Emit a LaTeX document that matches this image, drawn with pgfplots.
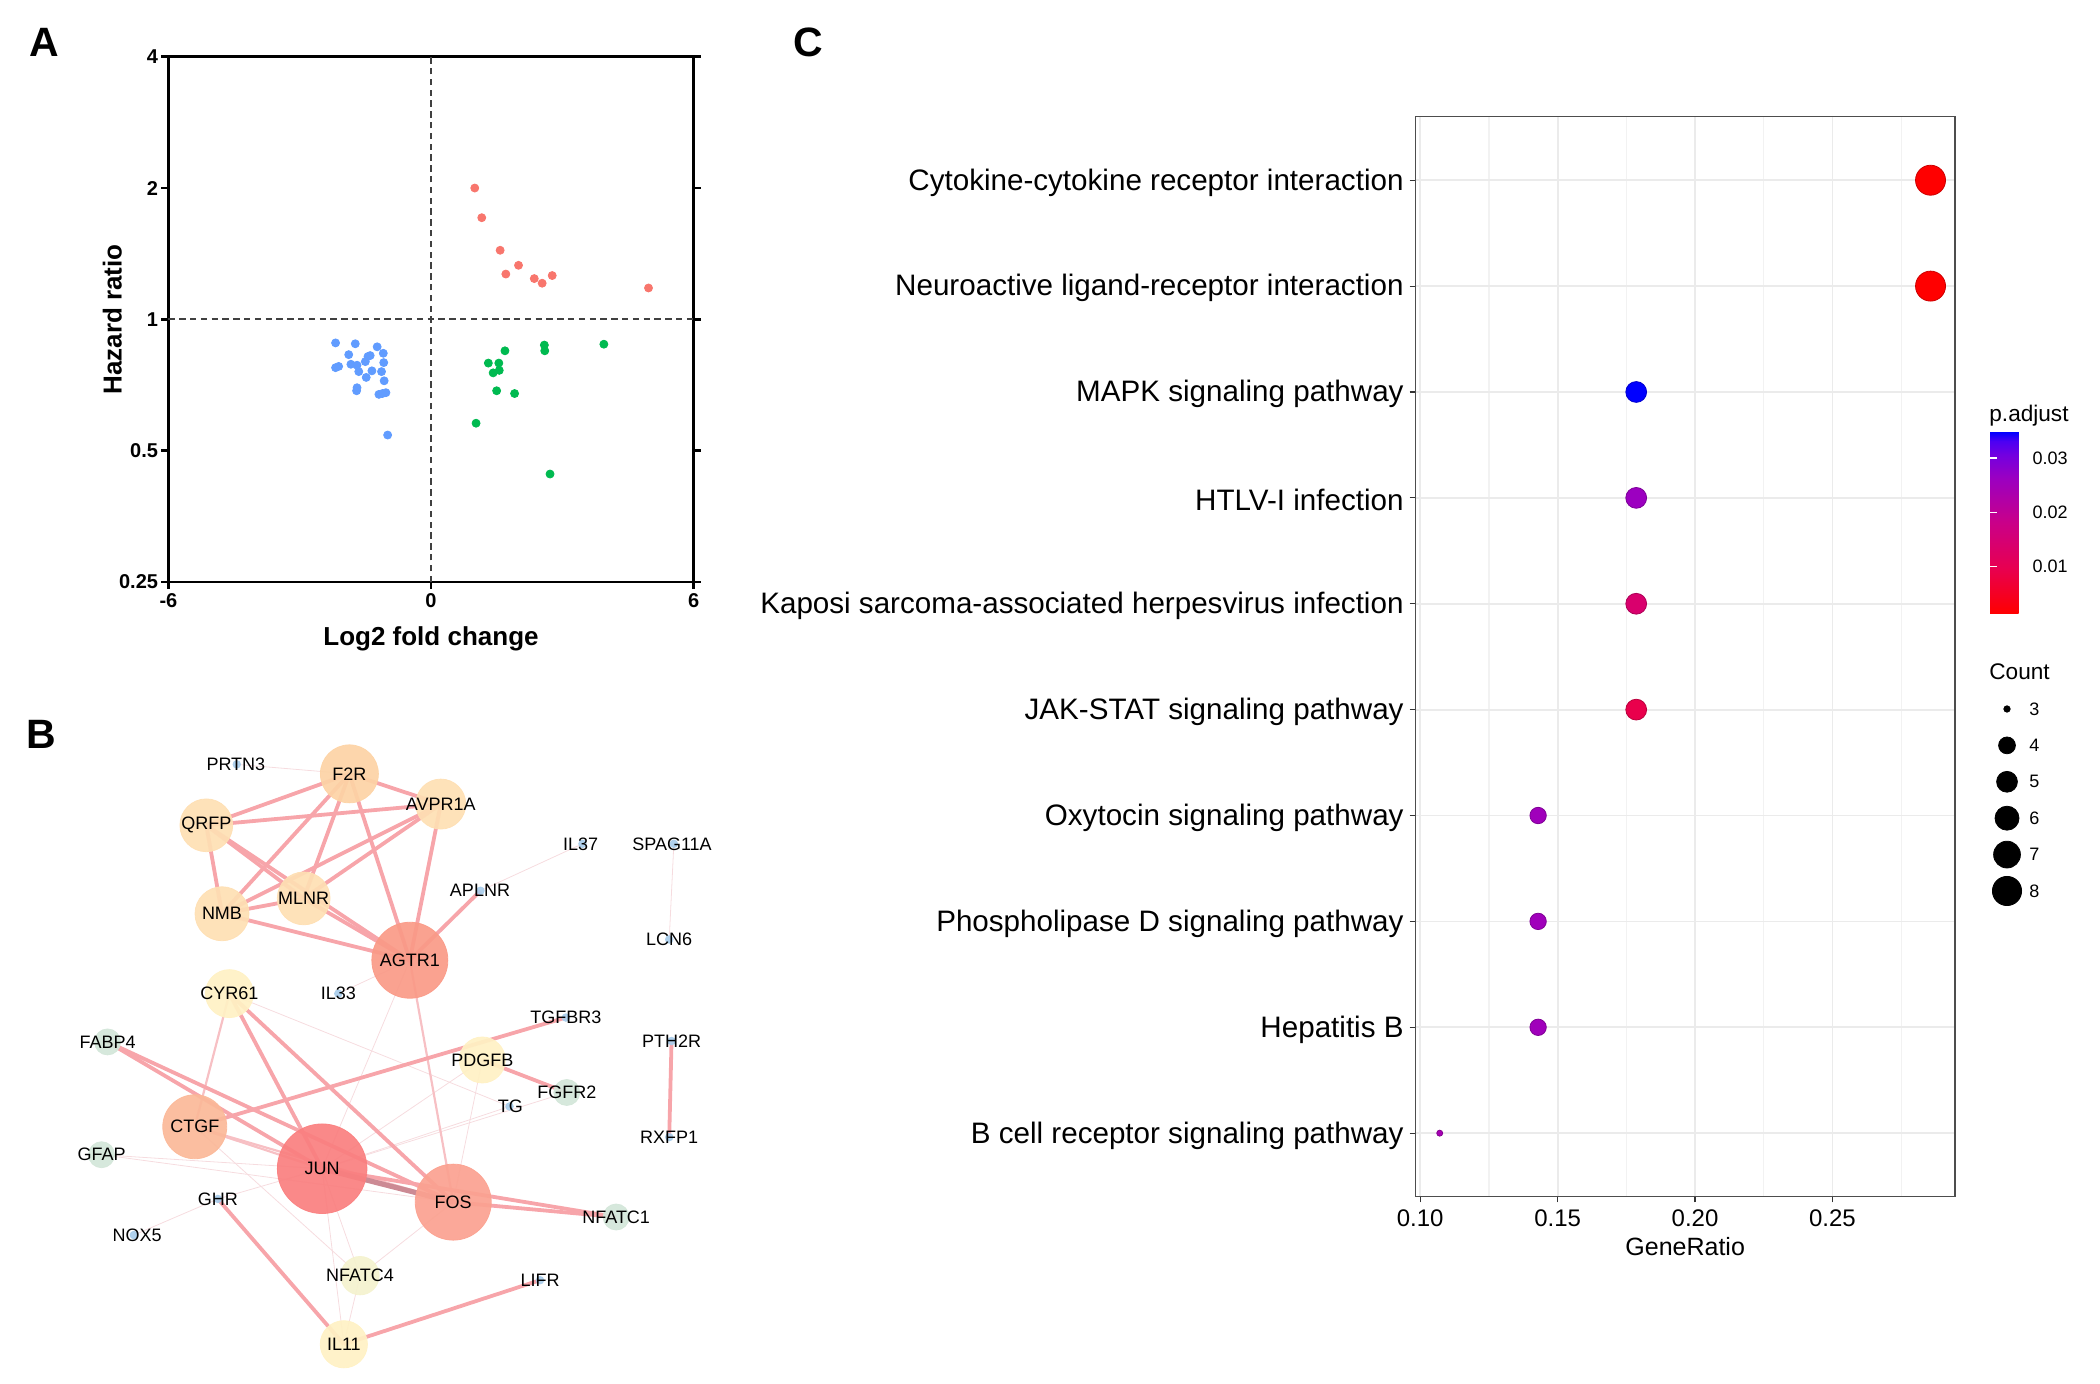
\documentclass[border=0pt]{standalone}
\usepackage{fontspec}
\setmainfont{Liberation Sans}
\usepackage{pgfplots}
\pgfplotsset{compat=1.18}
\definecolor{hrred}{HTML}{F8766D}
\definecolor{hrgreen}{HTML}{00BA50}
\definecolor{hrblue}{HTML}{619CFF}
\definecolor{edgeT}{HTML}{F7A5AA}
\definecolor{edgeM}{HTML}{F7C0C4}
\definecolor{edgeF}{HTML}{F6DCDF}
\definecolor{edgeD}{HTML}{CC8A94}
\definecolor{nPeachA}{HTML}{FDD3A5}
\definecolor{nPeachB}{HTML}{FEDFB3}
\definecolor{nSalmon}{HTML}{FA9A87}
\definecolor{nJun}{HTML}{FA7F7F}
\definecolor{nFos}{HTML}{FBA190}
\definecolor{nCtgf}{HTML}{FBB898}
\definecolor{nYellow}{HTML}{FFF1C4}
\definecolor{nYellowG}{HTML}{F4F2CE}
\definecolor{nGreen}{HTML}{D3E6D9}
\definecolor{nBlue}{HTML}{A9CDEB}
\definecolor{gridc}{HTML}{EBEBEB}
\definecolor{gridm}{HTML}{F2F2F2}
\definecolor{frame}{HTML}{4D4D4D}
\newcommand{\eT}[4]{\addplot[edgeT, line width=1.9pt, mark=none] coordinates {(#1,#2) (#3,#4)};}
\newcommand{\eM}[4]{\addplot[edgeM, line width=1.1pt, mark=none] coordinates {(#1,#2) (#3,#4)};}
\newcommand{\eF}[4]{\addplot[edgeF, line width=0.4pt, mark=none] coordinates {(#1,#2) (#3,#4)};}
\newcommand{\eD}[4]{\addplot[edgeD, line width=2.6pt, mark=none] coordinates {(#1,#2) (#3,#4)};}
\newcommand{\nd}[4]{\addplot[only marks, mark=*, mark size=#3pt, color=#4, opacity=0.92] coordinates {(#1,#2)};}
\newcommand{\lb}[3]{\node[font=\fontsize{9}{10}\selectfont, inner sep=0pt] at (axis cs:#1,#2) {#3};}
\pgfplotsset{netaxis/.style={at={(0pt,0pt)}, anchor=south west, scale only axis,
  width=360pt, height=352pt, xmin=0, xmax=1560, ymin=0, ymax=1560,
  y dir=reverse, hide axis, clip=false}}
\begin{document}
\begin{tikzpicture}
\path[use as bounding box] (0,0) rectangle (1050pt,692pt);
% panel labels
\node[font=\bfseries\fontsize{20.5}{24}\selectfont, inner sep=0pt] at (22pt,670.8pt) {A};
\node[font=\bfseries\fontsize{20.5}{24}\selectfont, inner sep=0pt] at (20.75pt,325pt) {B};
\node[font=\bfseries\fontsize{20.5}{24}\selectfont, inner sep=0pt] at (404pt,671pt) {C};

% ---------------- Panel A ----------------
\begin{axis}[at={(84.2pt,401pt)}, anchor=south west, scale only axis,
  width=262.6pt, height=262.65pt,
  xmin=-6, xmax=6, ymode=log, log basis y=2, ymin=0.25, ymax=4,
  xtick={-6,0,6}, xticklabels={-6,0,6},
  ytick={0.25,0.5,1,2,4}, yticklabels={0.25,0.5,1,2,4},
  tick align=outside, major tick length=3.5pt,
  xtick pos=bottom, ytick pos=both, yticklabel pos=left,
  axis line style={line width=1.4pt},
  tick style={line width=1.4pt, black},
  ticklabel style={font=\bfseries\fontsize{10}{12}\selectfont},
  yticklabel style={inner sep=1.5pt},
  xticklabel style={inner sep=2pt},
  xlabel={Log2 fold change}, ylabel={Hazard ratio},
  label style={font=\bfseries\fontsize{13}{15}\selectfont},
  xlabel style={at={(axis description cs:0.5,-0.1078)}, anchor=center},
  ylabel style={at={(axis description cs:-0.1066,0.5)}, anchor=center},
  /pgf/number format/assume math mode=true,
  clip=false]
\addplot[color=black!75, line width=1.1pt, dash pattern=on 3.2pt off 2.2pt] coordinates {(-6,1) (6,1)};
\addplot[color=black!75, line width=1.1pt, dash pattern=on 3.2pt off 2.2pt] coordinates {(0,0.25) (0,4)};
\addplot[only marks, mark=*, mark size=2pt, color=hrred] coordinates {
(1.00,2.00) (1.16,1.71) (1.58,1.44) (2.00,1.33) (1.71,1.27) (2.36,1.24) (2.54,1.21) (2.77,1.26) (4.97,1.18)};
\addplot[only marks, mark=*, mark size=2pt, color=hrgreen] coordinates {
(3.95,0.877) (2.59,0.873) (2.60,0.847) (1.69,0.847) (1.31,0.794) (1.55,0.794) (1.56,0.764) (1.42,0.754)
(1.50,0.686) (1.91,0.676) (1.03,0.578) (2.72,0.442)};
\addplot[only marks, mark=*, mark size=2pt, color=hrblue] coordinates {
(-2.18,0.883) (-1.73,0.879) (-1.23,0.865) (-1.88,0.830) (-1.39,0.826) (-1.44,0.822) (-1.09,0.836)
(-1.50,0.800) (-1.08,0.796) (-1.83,0.789) (-1.69,0.785) (-2.11,0.780) (-2.18,0.775) (-1.65,0.759)
(-1.35,0.762) (-1.13,0.759) (-1.48,0.736) (-1.07,0.723) (-1.69,0.697) (-1.70,0.686) (-1.19,0.673)
(-1.11,0.676) (-1.03,0.679) (-0.99,0.543)};
\end{axis}

% ---------------- Panel B ----------------
\begin{axis}[netaxis]
% faint edges
\eF{513}{187}{757}{208}
\eF{497}{695}{1104}{945}
\eF{1262}{363}{1041}{467}
\eF{1460}{363}{1450}{575}
\eF{472}{1150}{290}{1230}
\eF{220}{1052}{698}{1083}
\eF{220}{1052}{982}{1157}
\eF{733}{695}{888}{621}
\eF{888}{621}{698}{1083}
\eF{698}{1083}{780}{1320}
\eF{982}{1157}{780}{1320}
\eF{698}{1083}{745}{1472}
\eF{1045}{842}{982}{1157}
\eF{1045}{842}{698}{1083}
\eF{422}{990}{780}{1320}
\eF{1104}{945}{698}{1083}
\eF{1228}{914}{698}{1083}
\eF{472}{1150}{698}{1083}
\eF{780}{1320}{745}{1472}
% medium edges
\eM{497}{695}{422}{990}
\eM{888}{621}{982}{1157}
\eM{422}{990}{698}{1083}
\eM{422}{990}{982}{1157}
% thick edges
\eT{757}{208}{447}{322}
\eT{757}{208}{955}{275}
\eT{757}{208}{481}{518}
\eT{757}{208}{658}{484}
\eT{757}{208}{888}{621}
\eT{447}{322}{955}{275}
\eT{447}{322}{481}{518}
\eT{447}{322}{658}{484}
\eT{447}{322}{888}{621}
\eT{955}{275}{481}{518}
\eT{955}{275}{658}{484}
\eT{955}{275}{888}{621}
\eT{481}{518}{658}{484}
\eT{481}{518}{888}{621}
\eT{658}{484}{888}{621}
\eT{888}{621}{1041}{467}
\eT{497}{695}{698}{1083}
\eT{497}{695}{982}{1157}
\eT{233}{802}{698}{1083}
\eT{233}{802}{982}{1157}
\eT{422}{990}{1226}{748}
\eT{1045}{842}{1228}{914}
\eT{698}{1083}{1335}{1190}
\eT{982}{1157}{1335}{1190}
\eT{472}{1150}{745}{1472}
\eT{745}{1472}{1170}{1330}
\eT{1455}{800}{1450}{1013}
\eD{698}{1083}{982}{1157}
% nodes
\nd{757}{208}{14.5}{nPeachA}
\nd{955}{275}{12.5}{nPeachB}
\nd{447}{322}{13.2}{nPeachB}
\nd{481}{518}{13.5}{nPeachB}
\nd{658}{484}{13.2}{nPeachB}
\nd{888}{621}{19}{nSalmon}
\nd{497}{695}{12}{nYellow}
\nd{422}{990}{16}{nCtgf}
\nd{698}{1083}{22.4}{nJun}
\nd{982}{1157}{19}{nFos}
\nd{1045}{842}{11.5}{nYellow}
\nd{780}{1320}{9.6}{nYellowG}
\nd{745}{1472}{11.8}{nYellow}
\nd{233}{802}{6.5}{nGreen}
\nd{220}{1052}{6.5}{nGreen}
\nd{1228}{914}{6.5}{nGreen}
\nd{1335}{1190}{6.5}{nGreen}
\nd{513}{187}{1.9}{nBlue}
\nd{1262}{363}{1.9}{nBlue}
\nd{1460}{363}{1.9}{nBlue}
\nd{1041}{467}{1.9}{nBlue}
\nd{1450}{575}{1.9}{nBlue}
\nd{733}{695}{1.9}{nBlue}
\nd{1226}{748}{1.9}{nBlue}
\nd{1455}{800}{1.9}{nBlue}
\nd{1450}{1013}{1.9}{nBlue}
\nd{1104}{945}{1.9}{nBlue}
\nd{472}{1150}{1.9}{nBlue}
\nd{290}{1230}{1.9}{nBlue}
\nd{1170}{1330}{1.9}{nBlue}
\end{axis}
% labels of panel B, drawn above the nodes
\begin{axis}[netaxis]
\lb{511}{187}{PRTN3}
\lb{757}{208}{F2R}
\lb{955}{275}{AVPR1A}
\lb{447}{322}{QRFP}
\lb{1258}{363}{IL37}
\lb{1456}{363}{SPAG11A}
\lb{1040}{467}{APLNR}
\lb{658}{484}{MLNR}
\lb{481}{518}{NMB}
\lb{1450}{575}{LCN6}
\lb{888}{621}{AGTR1}
\lb{497}{695}{CYR61}
\lb{733}{695}{IL33}
\lb{1226}{748}{TGFBR3}
\lb{233}{802}{FABP4}
\lb{1455}{800}{PTH2R}
\lb{1045}{842}{PDGFB}
\lb{1228}{914}{FGFR2}
\lb{1106}{945}{TG}
\lb{422}{990}{CTGF}
\lb{1450}{1013}{RXFP1}
\lb{220}{1052}{GFAP}
\lb{698}{1083}{JUN}
\lb{472}{1150}{GHR}
\lb{982}{1157}{FOS}
\lb{1335}{1190}{NFATC1}
\lb{297}{1230}{NOX5}
\lb{780}{1320}{NFATC4}
\lb{1170}{1330}{LIFR}
\lb{745}{1472}{IL11}
\end{axis}

% ---------------- Panel C ----------------
\begin{axis}[at={(707.65pt,93.65pt)}, anchor=south west, scale only axis,
  width=269.9pt, height=540pt,
  xmin=0.09821, xmax=0.29464, ymin=0.4, ymax=10.6, y dir=reverse,
  xtick={0.10,0.15,0.20,0.25}, xticklabels={0.10,0.15,0.20,0.25},
  minor xtick={0.125,0.175,0.225,0.275},
  ytick={1,2,3,4,5,6,7,8,9,10},
  yticklabels={Cytokine-cytokine receptor interaction,
    Neuroactive ligand-receptor interaction,
    MAPK signaling pathway,
    HTLV-I infection,
    Kaposi sarcoma-associated herpesvirus infection,
    JAK-STAT signaling pathway,
    Oxytocin signaling pathway,
    Phospholipase D signaling pathway,
    Hepatitis B,
    B cell receptor signaling pathway},
  grid=both,
  major grid style={color=gridc, line width=0.9pt},
  minor grid style={color=gridm, line width=0.6pt},
  axis line style={color=frame, line width=0.7pt},
  tick align=outside, major tick length=2.85pt, minor tick length=0pt,
  tick style={color=black!80, line width=0.6pt},
  xtick pos=bottom, ytick pos=left,
  yticklabel style={font=\fontsize{14.8}{17}\selectfont, inner sep=2.8pt, yshift=-1.1pt},
  xticklabel style={font=\fontsize{12}{14}\selectfont},
  xlabel={GeneRatio},
  xlabel style={font=\fontsize{12.5}{14}\selectfont, at={(axis description cs:0.5,-0.0463)}, anchor=center},
  /pgf/number format/assume math mode=true,
  point meta min=0.0013, point meta max=0.0348,
  colormap={ggrb}{rgb255(0cm)=(255,0,0) rgb255(2cm)=(232,0,80) rgb255(4cm)=(202,0,136) rgb255(6cm)=(154,0,194) rgb255(7cm)=(115,0,224) rgb255(7.6cm)=(75,0,243) rgb255(8cm)=(0,0,255)},
  colorbar,
  colorbar style={
    at={(1.0649,0.7081)}, anchor=north west,
    scale only axis, width=18pt, height=91pt,
    y dir=normal,
    scaled y ticks=false,
    ytick={0.01,0.02,0.03}, yticklabels={0.01,0.02,0.03},
    yticklabel pos=right, ytick pos=both,
    yticklabel style={font=\fontsize{9}{11}\selectfont, color=black, inner sep=3pt},
    tick align=inside, major tick length=3.6pt,
    ytick style={color=white, line width=0.6pt},
    axis line style={draw=none},
    grid=none, xtick=\empty,
    /pgf/number format/assume math mode=true,
  },
  clip=false]
\addplot[scatter, only marks, mark=*, point meta=explicit,
  visualization depends on={\thisrow{r} \as \rad},
  scatter/@pre marker code/.append style={/tikz/mark size=\rad}]
  table[x=x, y=y, meta=p]{
x y p r
0.2857 1 0.0013 7.5
0.2857 2 0.0013 7.5
0.1786 3 0.0348 5.2
0.1786 4 0.0261 5.2
0.1786 5 0.0140 5.2
0.1786 6 0.0093 5.2
0.1429 7 0.0254 4.1
0.1429 8 0.0254 4.1
0.1429 9 0.0254 4.1
0.1071 10 0.0244 1.5
};
\end{axis}

% legend titles
\node[anchor=west, inner sep=0pt, font=\fontsize{11.3}{13}\selectfont] at (994.5pt,484pt) {p.adjust};
\node[anchor=west, inner sep=0pt, font=\fontsize{11.3}{13}\selectfont] at (994.5pt,356pt) {Count};

% Count legend
\begin{axis}[at={(993.5pt,237.4pt)}, anchor=south west, scale only axis,
  width=20pt, height=109.2pt, xmin=-1, xmax=1, ymin=2.5, ymax=8.5,
  y dir=reverse, hide axis, clip=false]
\addplot[only marks, mark=*, mark size=1.6pt, black] coordinates {(0,3)};
\addplot[only marks, mark=*, mark size=4.2pt, black] coordinates {(0,4)};
\addplot[only marks, mark=*, mark size=5.2pt, black] coordinates {(0,5)};
\addplot[only marks, mark=*, mark size=6.0pt, black] coordinates {(0,6)};
\addplot[only marks, mark=*, mark size=6.7pt, black] coordinates {(0,7)};
\addplot[only marks, mark=*, mark size=7.3pt, black] coordinates {(0,8)};
\node[anchor=west, inner sep=0pt, font=\fontsize{9}{11}\selectfont, xshift=11pt] at (axis cs:0,3) {3};
\node[anchor=west, inner sep=0pt, font=\fontsize{9}{11}\selectfont, xshift=11pt] at (axis cs:0,4) {4};
\node[anchor=west, inner sep=0pt, font=\fontsize{9}{11}\selectfont, xshift=11pt] at (axis cs:0,5) {5};
\node[anchor=west, inner sep=0pt, font=\fontsize{9}{11}\selectfont, xshift=11pt] at (axis cs:0,6) {6};
\node[anchor=west, inner sep=0pt, font=\fontsize{9}{11}\selectfont, xshift=11pt] at (axis cs:0,7) {7};
\node[anchor=west, inner sep=0pt, font=\fontsize{9}{11}\selectfont, xshift=11pt] at (axis cs:0,8) {8};
\end{axis}
\end{tikzpicture}
\end{document}
